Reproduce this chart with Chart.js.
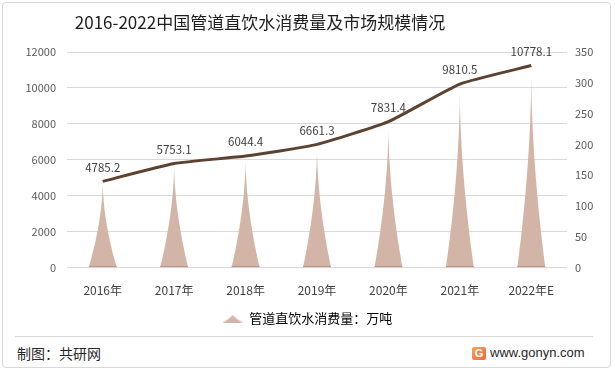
<!DOCTYPE html>
<html>
<head>
<meta charset="utf-8">
<script src="https://cdn.jsdelivr.net/npm/chart.js@4.4.1/dist/chart.umd.min.js"></script>
<style>
  html, body { margin: 0; padding: 0; background: #fff; }
  #wrap { position: relative; width: 615px; height: 372px; overflow: hidden; background: #fff; }
  #frame { position: absolute; left: 2px; top: 2px; width: 609px; height: 366px; border: 1px solid #d9d9d9; border-radius: 4px; box-sizing: border-box; }
  #title { position: absolute; left: 0; width: 520px; top: 10px; text-align: center; font: 17px "Noto Sans CJK SC", sans-serif; line-height: 24px; color: #1e1e1e; white-space: nowrap; }
  #chartBox { position: absolute; left: 0; top: 0; width: 615px; height: 340px; }
  #sep { position: absolute; left: 15px; width: 578px; top: 336px; height: 1px; background: #d9d9d9; }
  #src { position: absolute; left: 17px; top: 343px; font: 14px "Noto Sans CJK SC", sans-serif; line-height: 20px; color: #262626; }
  #logo { position: absolute; left: 472px; top: 347px; width: 14px; height: 13px; background: linear-gradient(135deg, #f6a04a, #ef6a4a); border-radius: 2px; color: #fff; font: bold 11px "Liberation Sans", sans-serif; line-height: 13px; text-align: center; }
  #site { position: absolute; left: 490px; top: 344px; font: 13px "Liberation Sans", sans-serif; line-height: 18px; color: #262626; }
</style>
</head>
<body>
<div id="wrap">
  <div id="frame"></div>
  <div id="chartBox"><canvas id="c"></canvas></div>
  <div id="title">2016-2022中国管道直饮水消费量及市场规模情况</div>
  <div id="sep"></div>
  <div id="src">制图：共研网</div>
  <div id="logo">G</div>
  <div id="site">www.gonyn.com</div>
</div>
<script>
// ---- data ----
const categories = ['2016年', '2017年', '2018年', '2019年', '2020年', '2021年', '2022年E'];
const consumption = [4785.2, 5753.1, 6044.4, 6661.3, 7831.4, 9810.5, 10778.1]; // 万吨, left axis (peaks)
const marketSize = [140, 169, 181, 200, 237, 298, 328];                          // right axis (line)
const pointLabels = ['4785.2', '5753.1', '6044.4', '6661.3', '7831.4', '9810.5', '10778.1'];
const leftTicks = [0, 2000, 4000, 6000, 8000, 10000, 12000];
const rightTicks = [0, 50, 100, 150, 200, 250, 300, 350];
const legendLabel = '管道直饮水消费量：万吨';

const PEAK_COLOR = '#d3b5a8';
const LINE_COLOR = '#5c4331';
const FONT = '"Noto Sans CJK SC", "Liberation Sans", sans-serif';

// legend icon (flat peak)
const icon = document.createElement('canvas');
icon.width = 20; icon.height = 8;
(function () {
  const g = icon.getContext('2d');
  g.fillStyle = PEAK_COLOR;
  g.beginPath();
  g.moveTo(0, 8);
  for (let i = 0; i <= 20; i++) {
    const f = i / 20;
    g.lineTo(10 - 10 * Math.pow(1 - f, 1.4), 8 - 8 * f);
  }
  for (let i = 20; i >= 0; i--) {
    const f = i / 20;
    g.lineTo(10 + 10 * Math.pow(1 - f, 1.4), 8 - 8 * f);
  }
  g.closePath();
  g.fill();
})();

// draws each bar element as a spike
const peakPlugin = {
  id: 'peaks',
  beforeDatasetsDraw(chart) {
    const meta = chart.getDatasetMeta(0);
    const ctx = chart.ctx;
    ctx.save();
    meta.data.forEach(el => {
      const p = el.getProps(['x', 'y', 'base', 'width'], true);
      const hw = p.width / 2, h = p.base - p.y;
      ctx.beginPath();
      ctx.moveTo(p.x - hw, p.base);
      const N = 40;
      for (let i = 0; i <= N; i++) {
        const f = i / N;
        ctx.lineTo(p.x - hw * Math.pow(1 - f, 1.8), p.base - h * f);
      }
      for (let i = N; i >= 0; i--) {
        const f = i / N;
        ctx.lineTo(p.x + hw * Math.pow(1 - f, 1.8), p.base - h * f);
      }
      ctx.closePath();
      ctx.fillStyle = PEAK_COLOR;
      ctx.fill();
      ctx.beginPath();
      ctx.moveTo(p.x - hw, p.base - 0.5);
      ctx.lineTo(p.x + hw, p.base - 0.5);
      ctx.strokeStyle = '#b89484';
      ctx.lineWidth = 1;
      ctx.stroke();
    });
    ctx.restore();
  }
};

const labelPlugin = {
  id: 'pointLabels',
  afterDatasetsDraw(chart) {
    const meta = chart.getDatasetMeta(1);
    const ctx = chart.ctx;
    ctx.save();
    ctx.font = '11.5px ' + FONT;
    ctx.fillStyle = '#404040';
    ctx.textAlign = 'center';
    ctx.textBaseline = 'middle';
    meta.data.forEach((pt, i) => {
      ctx.fillText(pointLabels[i], pt.x, pt.y - 14);
    });
    ctx.restore();
  }
};

new Chart(document.getElementById('c'), {
  data: {
    labels: categories,
    datasets: [
      {
        type: 'bar',
        label: legendLabel,
        data: consumption,
        yAxisID: 'y',
        backgroundColor: 'rgba(0,0,0,0)',
        borderWidth: 0,
        categoryPercentage: 1,
        barPercentage: 0.39,
        order: 2
      },
      {
        type: 'line',
        label: '市场规模',
        data: marketSize,
        yAxisID: 'y1',
        borderColor: LINE_COLOR,
        borderWidth: 3,
        pointRadius: 0,
        tension: 0.15,
        fill: false,
        order: 1
      }
    ]
  },
  options: {
    responsive: true,
    maintainAspectRatio: false,
    animation: false,
    layout: { padding: { top: 52, left: 0, right: 0, bottom: 5 } },
    plugins: {
      tooltip: { enabled: false },
      title: { display: false },
      legend: {
        position: 'bottom',
        labels: {
          usePointStyle: true,
          pointStyleWidth: 20,
          font: { family: FONT, size: 13 },
          color: '#404040',
          padding: 6,
          generateLabels: () => [{
            text: legendLabel,
            pointStyle: icon,
            fillStyle: PEAK_COLOR,
            strokeStyle: PEAK_COLOR,
            lineWidth: 0,
            hidden: false,
            datasetIndex: 0
          }]
        },
        onClick: () => {}
      }
    },
    scales: {
      x: {
        grid: { display: false },
        border: { display: false },
        ticks: { font: { family: FONT, size: 12 }, color: '#404040', padding: 8, maxRotation: 0 }
      },
      y: {
        position: 'left',
        min: 0, max: 12000,
        afterBuildTicks: s => { s.ticks = leftTicks.map(v => ({ value: v })); },
        afterFit: s => { s.width = 67; },
        grid: { color: '#d9d9d9', drawTicks: false, lineWidth: 1 },
        border: { display: false },
        ticks: { font: { family: FONT, size: 11 }, color: '#595959', padding: 11, callback: v => String(v) }
      },
      y1: {
        position: 'right',
        min: 0, max: 350,
        afterBuildTicks: s => { s.ticks = rightTicks.map(v => ({ value: v })); },
        afterFit: s => { s.width = 48; },
        grid: { display: false, drawTicks: false },
        border: { display: false },
        ticks: { font: { family: FONT, size: 11 }, color: '#595959', padding: 8, callback: v => String(v) }
      }
    }
  },
  plugins: [peakPlugin, labelPlugin]
});
</script>
</body>
</html>
